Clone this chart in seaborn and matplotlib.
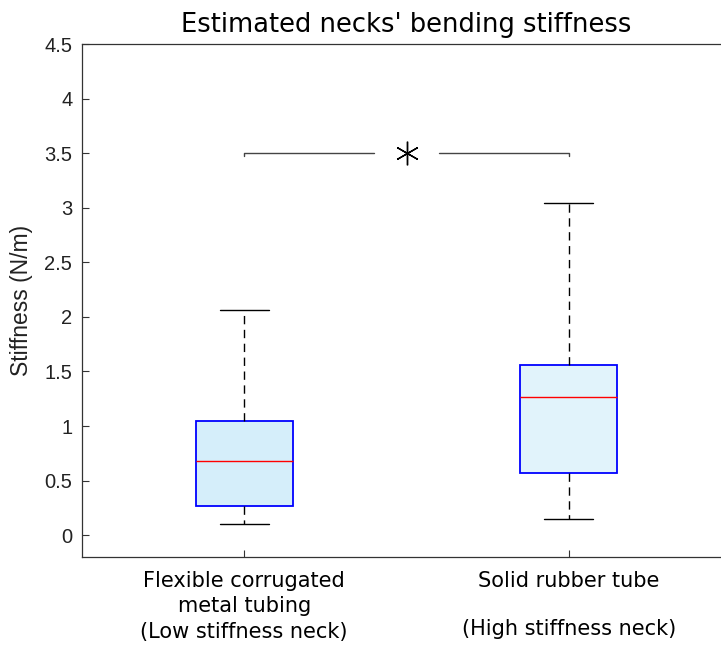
import numpy as np
import pandas as pd
import matplotlib
matplotlib.use("Agg")
import matplotlib.pyplot as plt
import seaborn as sns

# Box statistics: [lower whisker, Q1, median, Q3, upper whisker]
low_stiff = [0.10, 0.265, 0.677, 1.05, 2.06]
high_stiff = [0.146, 0.567, 1.263, 1.555, 3.047]
categories = ["Flexible corrugated\nmetal tubing\n(Low stiffness neck)",
              "Solid rubber tube\n(High stiffness neck)"]
sig_level = 3.5
yticks = [0, 0.5, 1, 1.5, 2, 2.5, 3, 3.5, 4, 4.5]
ytick_labels = ["0", "0.5", "1", "1.5", "2", "2.5", "3", "3.5", "4", "4.5"]

df = pd.DataFrame({
    "group": [categories[0]] * len(low_stiff) + [categories[1]] * len(high_stiff),
    "stiffness": low_stiff + high_stiff,
})

sns.set_style("white")
fig = plt.figure(figsize=(7.21, 6.46), dpi=100)
ax = fig.add_axes([82 / 721, 1 - 557 / 646, 649 / 721, (557 - 44) / 646])

sns.boxplot(data=df, x="group", y="stiffness", order=categories, ax=ax,
            whis=np.inf, width=0.30, showfliers=False,
            boxprops=dict(edgecolor="#0000ff", linewidth=1.3),
            medianprops=dict(color="#ff0000", linewidth=1.0),
            whiskerprops=dict(color="black", linewidth=1.0, linestyle=(0, (6, 4))),
            capprops=dict(color="black", linewidth=1.0),
            linecolor="black")

fills = ["#d5eefa", "#e1f3fb"]
for patch, c in zip(ax.patches, fills):
    patch.set_facecolor(c)
    patch.set_edgecolor("#0000ff")

# significance bracket
x1, x2 = 0, 1
xm = (x1 + x2) / 2
ax.plot([x1, x1, xm - 0.10], [sig_level - 0.03, sig_level, sig_level], color="#444444", lw=1.0)
ax.plot([xm + 0.10, x2, x2], [sig_level, sig_level, sig_level - 0.03], color="#444444", lw=1.0)
ax.plot([xm], [sig_level], marker=(6, 2, 0), markersize=17, color="black", mew=1.0)

ax.set_xlim(-0.5, 1.5)
ax.set_ylim(-0.2, 4.5)
ax.set_yticks(yticks)
ax.set_yticklabels(ytick_labels, fontsize=14.5, family="Liberation Sans", color="#222222")
ax.set_xticks([0, 1])
ax.set_xticklabels(categories, fontsize=15, family="DejaVu Sans", color="black")
labs = ax.get_xticklabels()
labs[0].set_linespacing(1.34)
labs[1].set_linespacing(2.73)
ax.tick_params(axis="both", direction="in", length=5, width=0.8, color="#333333",
               left=True, bottom=True)
ax.tick_params(axis="x", pad=10)
ax.tick_params(axis="y", pad=7)
ax.set_xlabel("")
ax.set_ylabel("Stiffness (N/m)", fontsize=16.5, family="Liberation Sans", color="#222222", labelpad=8)
ax.set_title("Estimated necks' bending stiffness", fontsize=18.5, family="DejaVu Sans",
             color="black", pad=9)
for s in ax.spines.values():
    s.set_color("#333333")
    s.set_linewidth(0.9)

fig.savefig("out.png", dpi=100)
